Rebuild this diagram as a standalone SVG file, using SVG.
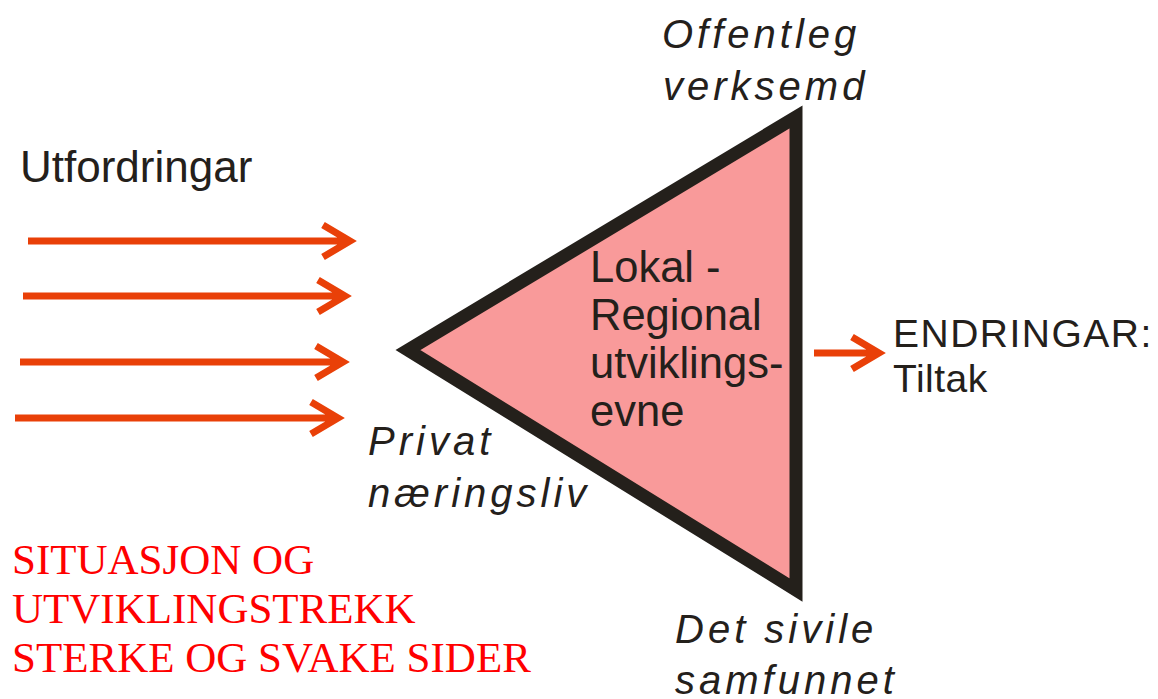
<svg xmlns="http://www.w3.org/2000/svg" width="1158" height="699" viewBox="0 0 1158 699">
<style>
.sans{font-family:"Liberation Sans",Arial,sans-serif;fill:#24201B;}
.ital{font-family:"Liberation Sans",Arial,sans-serif;font-style:italic;fill:#24201B;font-size:40px;letter-spacing:4px;}
.red{font-family:"Liberation Serif","Times New Roman",serif;fill:#FF0000;font-size:43px;}
.arr{stroke:#E94008;stroke-width:7;fill:none;}
</style>
<rect width="1158" height="699" fill="#FFFFFF"/>
<g id="triangle">
<polygon points="408,350 796,117 796,590" fill="#F99A9A" stroke="#24201B" stroke-width="13" stroke-linejoin="miter"/>
<text class="sans" font-size="43.5"><tspan x="590" y="282">Lokal -</tspan><tspan x="590" y="330">Regional</tspan><tspan x="590" y="378">utviklings-</tspan><tspan x="590" y="426">evne</tspan></text>
</g>
<g id="utfordringar">
<text class="sans" font-size="44" x="20" y="182">Utfordringar</text>
</g>
<g id="offentleg">
<text class="ital"><tspan x="662" y="48">Offentleg</tspan><tspan x="663" y="100">verksemd</tspan></text>
</g>
<g id="privat">
<text class="ital"><tspan x="368" y="455">Privat</tspan><tspan x="368" y="507">næringsliv</tspan></text>
</g>
<g id="sivile">
<text class="ital"><tspan x="675" y="643">Det sivile</tspan><tspan x="675" y="694">samfunnet</tspan></text>
</g>
<g id="endringar">
<text class="sans" font-size="39" letter-spacing="1.5"><tspan x="893" y="347">ENDRINGAR:</tspan><tspan x="893" y="392" letter-spacing="0.5">Tiltak</tspan></text>
</g>
<g id="situasjon">
<text class="red"><tspan x="12" y="574">SITUASJON OG</tspan><tspan x="12" y="623">UTVIKLINGSTREKK</tspan><tspan x="12" y="672">STERKE OG SVAKE SIDER</tspan></text>
</g>
<g id="connectors">
<path class="arr" d="M28,241 H350 M323,225 L350,241 L323,257"/>
<path class="arr" d="M23,296 H345 M318,280 L345,296 L318,312"/>
<path class="arr" d="M20,362 H343 M316,346 L343,362 L316,378"/>
<path class="arr" d="M15,418 H338 M311,402 L338,418 L311,434"/>
<path class="arr" d="M814,353 H879 M852,337 L879,353 L852,369"/>
</g>
</svg>
